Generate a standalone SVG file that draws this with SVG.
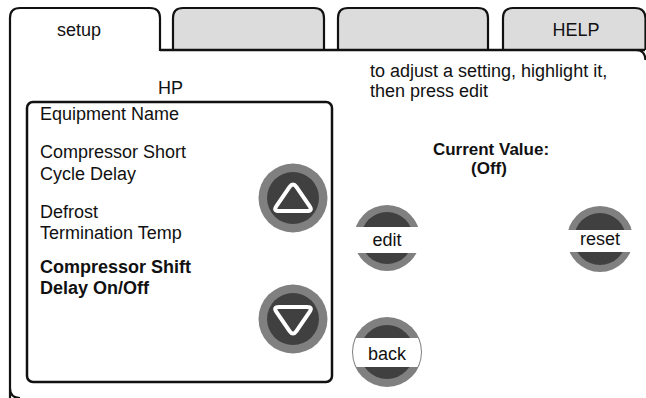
<svg xmlns="http://www.w3.org/2000/svg" width="646" height="398" viewBox="0 0 646 398">
<style>
  text { font-family: "Liberation Sans", Arial, sans-serif; font-size: 18px; fill: #111; }
  .b { font-weight: bold; }
  .cv { font-size: 17px; }
  .mid { text-anchor: middle; }
  .frame { fill: none; stroke: #111; stroke-width: 2.2; }
  .tab { fill: #dcdcdc; stroke: #111; stroke-width: 2.2; }
  .ring { fill: #808080; }
  .core { fill: #404040; }
  .band { fill: #fff; }
  .tri { fill: #404040; stroke: #fff; stroke-width: 4; stroke-linejoin: round; }
</style>
<defs>
  <clipPath id="btnClip"><circle cx="0" cy="0" r="34"/></clipPath>
</defs>
<rect width="646" height="398" fill="#fff"/>

<g id="frame">
  <path class="frame" d="M10,400 L10,388 Q10,398 20,398 M10,388 L10,18 Q10,8 20,8 L150,8 Q160,8 160,18 L160,50 L636,50 Q645,50 645.5,60"/>
</g>

<g id="tab-setup">
  <text class="mid" x="79" y="36">setup</text>
</g>
<g id="tab-2">
  <path class="tab" d="M173,50 L173,18 Q173,8 183,8 L314,8 Q324,8 324,18 L324,50"/>
</g>
<g id="tab-3">
  <path class="tab" d="M338,50 L338,18 Q338,8 348,8 L478,8 Q488,8 488,18 L488,50"/>
</g>
<g id="tab-help">
  <path class="tab" d="M503,50 L503,18 Q503,8 513,8 L635,8 Q645,8 645.5,18 L645.5,50"/>
  <text class="mid" x="576" y="36">HELP</text>
</g>
<path d="M160,50 L645,50" stroke="#111" stroke-width="2.4" fill="none"/>

<g id="instructions">
  <text x="370" y="77">to adjust a setting, highlight it,</text>
  <text x="370" y="97">then press edit</text>
</g>

<g id="title">
  <text class="mid" x="170.5" y="94">HP</text>
</g>

<g id="list">
  <rect x="27" y="102" width="305" height="280" rx="6" fill="none" stroke="#111" stroke-width="2.5"/>
  <text x="40" y="120">Equipment Name</text>
  <text x="40" y="158">Compressor Short</text>
  <text x="40" y="180">Cycle Delay</text>
  <text x="40" y="218">Defrost</text>
  <text x="40" y="239">Termination Temp</text>
  <text class="b" x="40" y="273">Compressor Shift</text>
  <text class="b" x="40" y="294">Delay On/Off</text>
</g>

<g id="btn-up">
  <circle class="ring" cx="293" cy="198" r="34.5"/>
  <circle class="core" cx="293" cy="198" r="26"/>
  <path class="tri" d="M296.4,186.9 L309.6,206.1 Q313,211 307,211 L279,211 Q273,211 276.4,206.1 L289.6,186.9 Q293,182 296.4,186.9 Z"/>
</g>

<g id="btn-down">
  <circle class="ring" cx="293" cy="319" r="34.5"/>
  <circle class="core" cx="293" cy="319" r="26"/>
  <path class="tri" d="M296.4,331.1 L309.6,311.9 Q313,307 307,307 L279,307 Q273,307 276.4,311.9 L289.6,331.1 Q293,336 296.4,331.1 Z"/>
</g>

<g id="current-value">
  <text class="b cv mid" x="491" y="155">Current Value:</text>
  <text class="b cv mid" x="489" y="174">(Off)</text>
</g>

<g id="btn-edit" transform="translate(387,238)">
  <circle class="ring" cx="0" cy="0" r="33"/>
  <circle class="core" cx="0" cy="0" r="26"/>
  <rect class="band" x="-40" y="-11" width="80" height="26" clip-path="url(#btnClip)"/>
  <text class="mid" x="0" y="8">edit</text>
</g>

<g id="btn-reset" transform="translate(600,239)">
  <circle class="ring" cx="0" cy="0" r="33"/>
  <circle class="core" cx="0" cy="0" r="26"/>
  <rect class="band" x="-40" y="-9" width="80" height="22" clip-path="url(#btnClip)"/>
  <text class="mid" x="0" y="6">reset</text>
</g>

<g id="btn-back" transform="translate(387,352)">
  <circle class="ring" cx="0" cy="0" r="35"/>
  <circle class="core" cx="0" cy="0" r="27"/>
  <rect class="band" x="-40" y="-14" width="80" height="29" rx="4" clip-path="url(#btnClip)"/>
  <text class="mid" x="0" y="8">back</text>
</g>
</svg>
